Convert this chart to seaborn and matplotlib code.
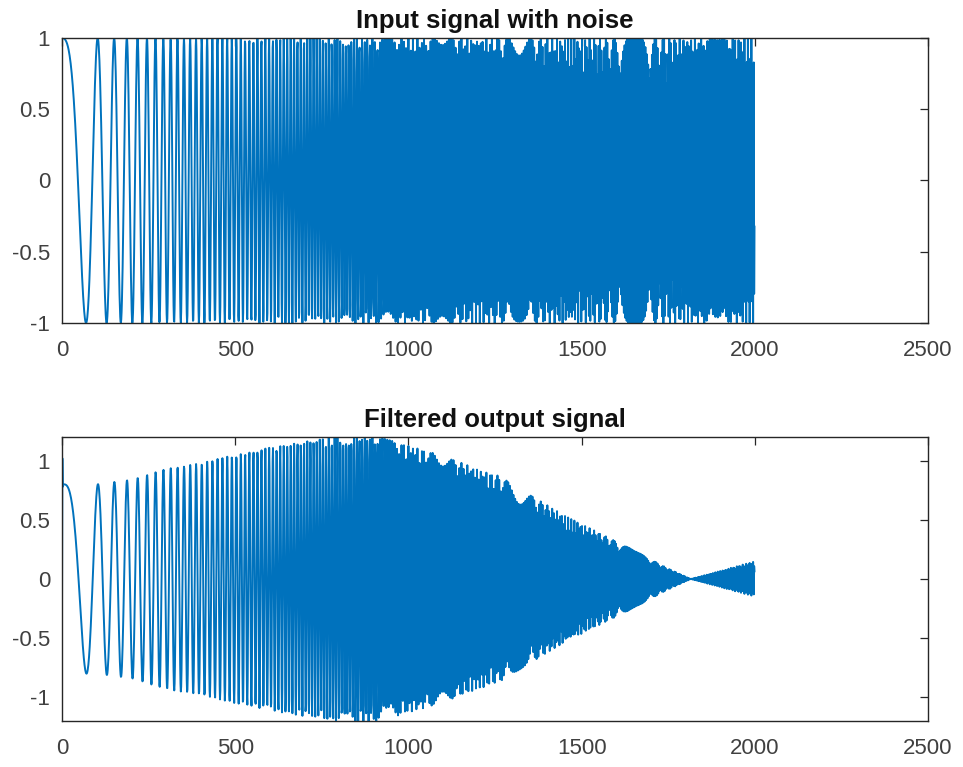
import numpy as np
import matplotlib
matplotlib.use("Agg")
import matplotlib.pyplot as plt
import seaborn as sns
from matplotlib.ticker import FuncFormatter

# chirp: troughs of the input near n = 71, 132, 172, 208, 238
# phase/pi = lin_rate*n + quad_rate*n^2
n_samples = 2000
lin_rate = 0.004
quad_rate = 1.5e-4

# envelope of the filtered output
env_n = [0, 100, 200, 300, 400, 500, 600, 700, 800, 900, 1000, 1100, 1200,
         1262, 1357, 1454, 1550, 1646, 1742, 1815, 2000]
env_amp = [0.80, 0.80, 0.84, 0.93, 0.98, 1.05, 1.11, 1.16, 1.21, 1.21, 1.13,
           1.04, 0.93, 0.87, 0.70, 0.53, 0.39, 0.25, 0.10, 0.0, -0.15]
# start-up transient of the filter (first samples)
start_vals = [-0.22, 1.02, 0.78, 0.80]

titles = ["Input signal with noise", "Filtered output signal"]
x_ticks = [0, 500, 1000, 1500, 2000, 2500]
y_ticks = [-1, -0.5, 0, 0.5, 1]

n = np.arange(n_samples)
phase = np.pi * (lin_rate * n + quad_rate * n ** 2)
sig_in = np.cos(phase)
sig_out = np.interp(n, env_n, env_amp) * np.cos(phase - 0.1)
sig_out[:len(start_vals)] = start_vals

sns.set_style("white")
plt.rcParams["font.family"] = ["Liberation Sans", "DejaVu Sans"]
plt.rcParams["axes.unicode_minus"] = False

line_color = "#0072BD"
axis_color = "#262626"

fig = plt.figure(figsize=(9.63, 7.67), dpi=100)
ax1 = fig.add_axes([0.0644, 0.5789, 0.8993, 0.3716])
ax2 = fig.add_axes([0.0644, 0.0600, 0.8993, 0.3702])

for ax, y, title, lim in [(ax1, sig_in, titles[0], 1.0), (ax2, sig_out, titles[1], 1.2)]:
    sns.lineplot(x=n, y=y, ax=ax, color=line_color, linewidth=1.4, estimator=None)
    ax.set_xlim(0, 2500)
    ax.set_ylim(-lim, lim)
    ax.set_xticks(x_ticks)
    ax.set_yticks(y_ticks)
    ax.yaxis.set_major_formatter(FuncFormatter(lambda v, p: "%g" % v))
    ax.tick_params(direction="in", length=6, width=0.9, colors=axis_color,
                   labelcolor="#404040", labelsize=16, top=True, right=True)
    ax.tick_params(axis="x", pad=12)
    ax.tick_params(axis="y", pad=8.5)
    for s in ax.spines.values():
        s.set_color(axis_color)
        s.set_linewidth(1.0)
    ax.set_title(title, fontsize=18.5, fontweight="bold", color="#111111", pad=7)
    ax.set_xlabel("")
    ax.set_ylabel("")

fig.savefig("out.png", dpi=100)
